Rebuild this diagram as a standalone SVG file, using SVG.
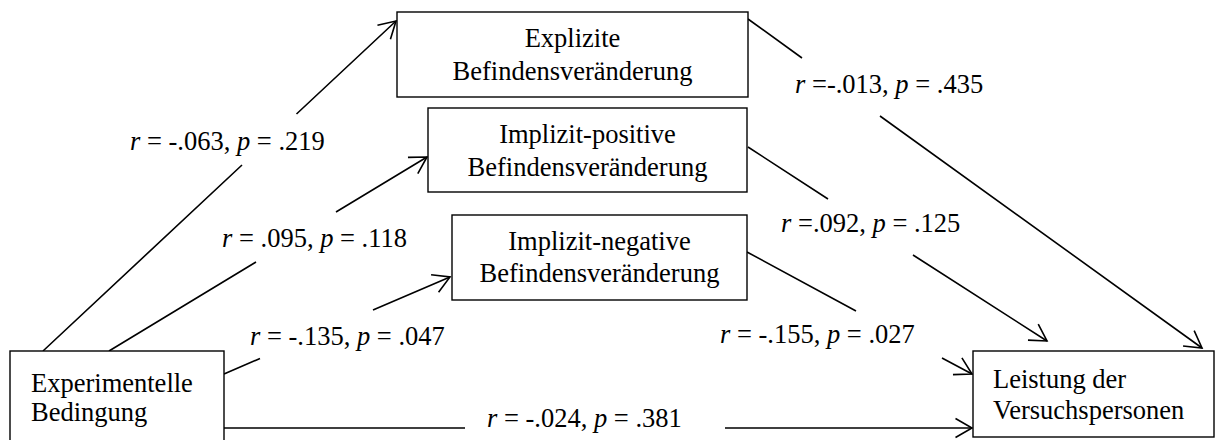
<svg xmlns="http://www.w3.org/2000/svg" width="1215" height="440" viewBox="0 0 1215 440">
<style>
.box{fill:#fff;stroke:#000;stroke-width:1.4}
.t{font-family:'Liberation Serif','DejaVu Serif',serif;font-size:26.5px;fill:#000}
.c{text-anchor:middle}
.i{font-style:italic}
.ln{fill:none;stroke:#000;stroke-width:1.6}
</style>
<defs>
<marker id="ah" markerUnits="userSpaceOnUse" markerWidth="22" markerHeight="24" refX="18" refY="11" orient="auto" overflow="visible">
<path d="M1.5,1.5 L18,11 L1.5,20.5" fill="none" stroke="#000" stroke-width="1.6"/>
</marker>
</defs>
<rect width="1215" height="440" fill="#fff"/>
<g id="connectors">
<path class="ln" d="M43,351 L242,165 M296.5,114 L396,21" marker-end="url(#ah)"/>
<path class="ln" d="M109,351 L256,262 M336,212 L427,157" marker-end="url(#ah)"/>
<path class="ln" d="M224,374 L260,358.5 M373,310 L450,277" marker-end="url(#ah)"/>
<path class="ln" d="M224,428 L465,428 M725,428 L972,428" marker-end="url(#ah)"/>
<path class="ln" d="M748,19 L802,58 M880,116 L1202,348" marker-end="url(#ah)"/>
<path class="ln" d="M748,147 L828,199 M913,255 L1047,341" marker-end="url(#ah)"/>
<path class="ln" d="M747,252 L856,311 M942,358 L972,374" marker-end="url(#ah)"/>
<text class="t" x="130" y="150"><tspan class="i">r</tspan> = -.063, <tspan class="i">p</tspan> = .219</text>
<text class="t" x="222" y="247"><tspan class="i">r</tspan> = .095, <tspan class="i">p</tspan> = .118</text>
<text class="t" x="250" y="345"><tspan class="i">r</tspan> = -.135, <tspan class="i">p</tspan> = .047</text>
<text class="t" x="487" y="427"><tspan class="i">r</tspan> = -.024, <tspan class="i">p</tspan> = .381</text>
<text class="t" x="795" y="93"><tspan class="i">r</tspan> =-.013, <tspan class="i">p</tspan> = .435</text>
<text class="t" x="781" y="232"><tspan class="i">r</tspan> =.092, <tspan class="i">p</tspan> = .125</text>
<text class="t" x="720" y="343"><tspan class="i">r</tspan> = -.155, <tspan class="i">p</tspan> = .027</text>
</g>
<g id="explizit">
<rect class="box" x="397" y="12" width="351" height="85"/>
<text class="t c" x="572.5" y="47">Explizite</text>
<text class="t c" x="572.5" y="80">Befindensveränderung</text>
</g>
<g id="implizit-positiv">
<rect class="box" x="428" y="108" width="319" height="84"/>
<text class="t c" x="587.5" y="143">Implizit-positive</text>
<text class="t c" x="587.5" y="176">Befindensveränderung</text>
</g>
<g id="implizit-negativ">
<rect class="box" x="452" y="215" width="295" height="85"/>
<text class="t c" x="599.5" y="250">Implizit-negative</text>
<text class="t c" x="599.5" y="282">Befindensveränderung</text>
</g>
<g id="experimentelle">
<rect class="box" x="10" y="351" width="214" height="100"/>
<text class="t" x="31" y="392">Experimentelle</text>
<text class="t" x="31" y="421">Bedingung</text>
</g>
<g id="leistung">
<rect class="box" x="973" y="351" width="241" height="86"/>
<text class="t" x="993" y="388">Leistung der</text>
<text class="t" x="993" y="419">Versuchspersonen</text>
</g>
</svg>
